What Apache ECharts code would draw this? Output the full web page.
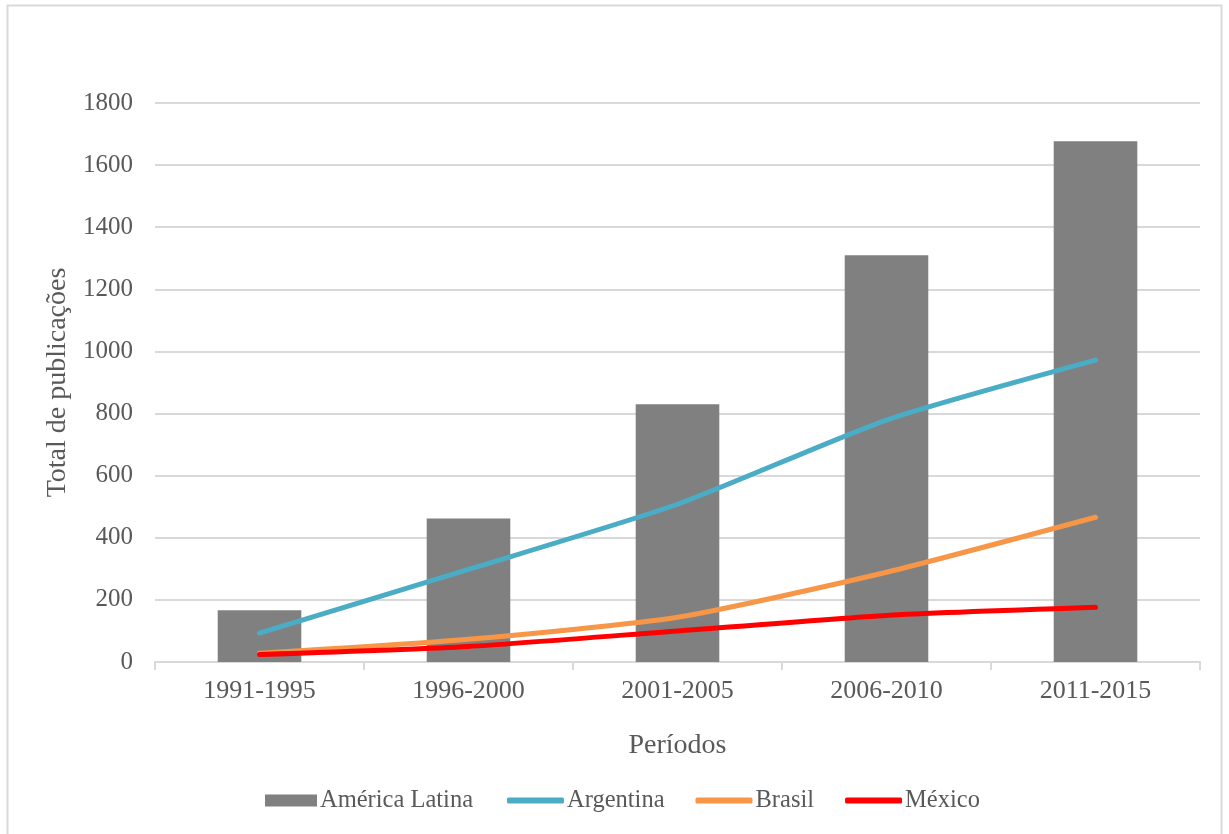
<!DOCTYPE html>
<html>
<head>
<meta charset="utf-8">
<script src="https://cdn.jsdelivr.net/npm/echarts@6/dist/echarts.min.js"></script>
<style>
  html, body { margin: 0; padding: 0; background: #fff; }
  #chart { width: 1229px; height: 834px; }
</style>
</head>
<body>
<div id="chart"></div>
<script>
// Publicações por período
const periodos = ['1991-1995', '1996-2000', '2001-2005', '2006-2010', '2011-2015'];
const americaLatina = [167, 462, 830, 1310, 1677];
const argentina = [93, 298, 508, 779, 972];
const brasil = [28, 73, 144, 289, 466];
const mexico = [24, 50, 100, 150, 176];
const yTicks = { min: 0, max: 1800, interval: 200 };

const FONT = 'Liberation Serif';
const TXT = '#595959';
const GRID = '#d9d9d9';

const chart = echarts.init(document.getElementById('chart'));

function lineSeries(name, data, color) {
  return {
    name, type: 'line', data,
    smooth: 0.2,
    symbol: 'none',
    z: 3,
    lineStyle: { color, width: 5, cap: 'round' },
    itemStyle: { color }
  };
}

const legendText = { fontFamily: FONT, fontSize: 24.5, color: TXT, padding: [0, 0, 0, -2] };

chart.setOption({
  animation: false,
  textStyle: { fontFamily: FONT, color: TXT },
  graphic: [{
    type: 'rect',
    shape: { x: 7.5, y: 5.5, width: 1214, height: 840 },
    style: { fill: 'none', stroke: GRID, lineWidth: 2 },
    silent: true
  }],
  grid: { left: 155, right: 29, top: 103, bottom: 172 },
  legend: [
    {
      left: 265, top: 788, padding: 0,
      itemWidth: 52, itemHeight: 12,
      icon: 'rect',
      textStyle: legendText,
      data: ['América Latina']
    },
    {
      left: 507, top: 788, padding: 0,
      itemGap: 31,
      itemWidth: 57, itemHeight: 6,
      icon: 'roundRect',
      textStyle: legendText,
      data: ['Argentina', 'Brasil', 'México']
    }
  ],
  xAxis: {
    type: 'category',
    data: periodos,
    name: 'Períodos',
    nameLocation: 'middle',
    nameGap: 70,
    nameTextStyle: { fontFamily: FONT, fontSize: 28, color: TXT },
    axisLine: { lineStyle: { color: GRID, width: 2 } },
    axisTick: { show: true, length: 8, lineStyle: { color: GRID, width: 2 } },
    axisLabel: { fontFamily: FONT, fontSize: 26, color: TXT, margin: 16 }
  },
  yAxis: {
    type: 'value',
    min: yTicks.min,
    max: yTicks.max,
    interval: yTicks.interval,
    name: 'Total de publicações',
    nameLocation: 'middle',
    nameGap: 82,
    nameTextStyle: { fontFamily: FONT, fontSize: 28, color: TXT },
    axisLine: { show: false },
    axisTick: { show: false },
    axisLabel: {
      fontFamily: FONT, fontSize: 25, color: TXT, margin: 22,
      formatter: (v) => String(v)
    },
    splitLine: { lineStyle: { color: GRID, width: 2 } }
  },
  series: [
    {
      name: 'América Latina', type: 'bar', data: americaLatina,
      barWidth: '40%',
      itemStyle: { color: '#808080' },
      z: 2
    },
    lineSeries('Argentina', argentina, '#4bacc6'),
    lineSeries('Brasil', brasil, '#f79646'),
    lineSeries('México', mexico, '#ff0000')
  ]
});
</script>
</body>
</html>
